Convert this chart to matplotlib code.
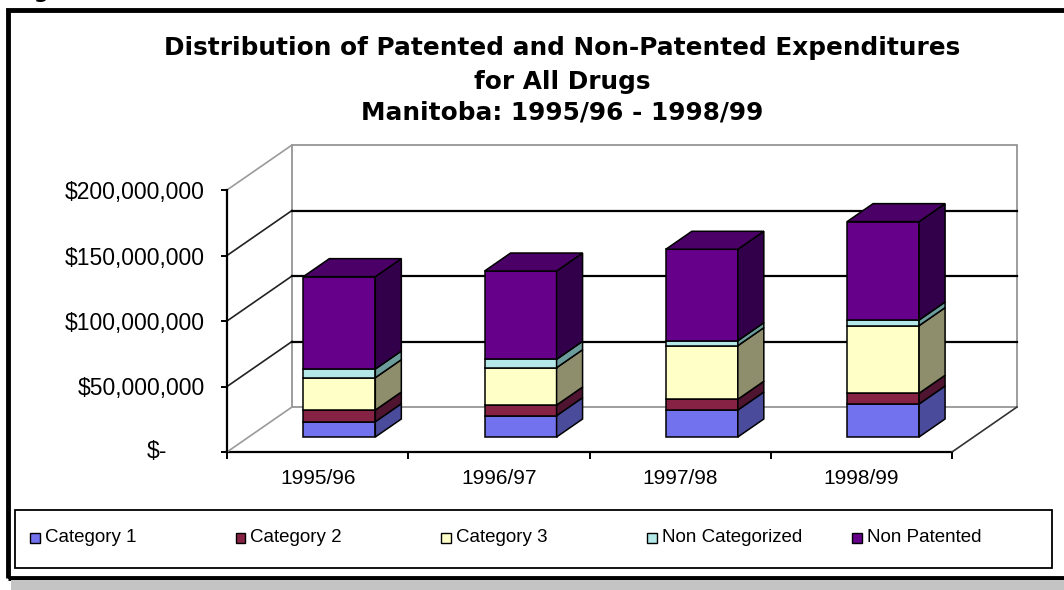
import numpy as np
import matplotlib
matplotlib.use("Agg")
import matplotlib.pyplot as plt
from matplotlib.patches import Polygon, Rectangle

plt.rcParams['font.family'] = ['Liberation Sans', 'DejaVu Sans']

# 支出データ（百万ドル）
years = ['1995/96', '1996/97', '1997/98', '1998/99']
series_names = ['Category 1', 'Category 2', 'Category 3', 'Non Categorized', 'Non Patented']
category_1 = [11.7, 16.3, 20.6, 25.2]
category_2 = [8.9, 8.1, 8.2, 8.2]
category_3 = [24.7, 28.5, 40.9, 51.6]
non_categorized = [6.6, 6.4, 3.8, 4.3]
non_patented = [70.5, 67.4, 69.8, 75.1]
y_ticks = [0, 50e6, 100e6, 150e6, 200e6]
y_tick_labels = ['$-', '$50,000,000', '$100,000,000', '$150,000,000', '$200,000,000']

front_colors = ['#7272EE', '#862244', '#FFFFC8', '#B4E8E8', '#66008A']
side_colors = ['#4B4B9C', '#4E1430', '#8E8E6C', '#6C9C9C', '#32004A']
top_color = '#4A0066'

W, H = 1064, 590
fig = plt.figure(figsize=(W / 100, H / 100), dpi=100)

def fx(px):
    return px / W

def fy(py):
    return 1 - py / H

# 前面の座標面（x: 区分, y: 金額）
ax = fig.add_axes([fx(227), fy(452), (952 - 227) / W, (452 - 190) / H])
ax.set_xlim(0, len(years))
ax.set_ylim(0, 200e6)
sx = len(years) / (952 - 227)       # 1px あたりの x
sy = 200e6 / (452 - 190)            # 1px あたりの y

# 奥行きのずれ（px）
wall_dx, wall_dy = 65 * sx, 45 * sy
front_dx, front_dy = 21.7 * sx, 15 * sy
depth_dx, depth_dy = 26 * sx, 18 * sy
bar_w = 72 * sx

ymax = y_ticks[-1]
nx = len(years)
# 奥の壁・左の壁・床
ax.add_patch(Polygon([(wall_dx, wall_dy), (nx + wall_dx, wall_dy), (nx + wall_dx, ymax + wall_dy),
                      (wall_dx, ymax + wall_dy)], closed=True, facecolor='white',
                     edgecolor='#8C8C8C', lw=1.2, clip_on=False, zorder=0))
ax.plot([0, nx], [0, 0], color='black', lw=1.6, clip_on=False, zorder=1)
ax.plot([nx, nx + wall_dx], [0, wall_dy], color='#333333', lw=1.2, clip_on=False, zorder=1)
for v in y_ticks:
    c = '#9A9A9A' if v in (0, ymax) else '#222222'
    ax.plot([0, wall_dx], [v, v + wall_dy], color=c, lw=1.2, clip_on=False, zorder=1)
    if 0 < v < ymax:
        ax.plot([wall_dx, nx + wall_dx], [v + wall_dy, v + wall_dy], color='black', lw=1.6,
                clip_on=False, zorder=1)

# 積み上げ棒（3D風）
stack = np.array([category_1, category_2, category_3, non_categorized, non_patented]) * 1e6
bottoms = np.vstack([np.zeros(nx), np.cumsum(stack, axis=0)[:-1]])
for i in range(nx):
    x0 = i + 0.5 - bar_w / 2 + front_dx
    x1 = x0 + bar_w
    for k in range(len(series_names)):
        b = bottoms[k, i] + front_dy
        t = b + stack[k, i]
        ax.add_patch(Polygon([(x0, b), (x1, b), (x1, t), (x0, t)], closed=True,
                             facecolor=front_colors[k], edgecolor='black', lw=1.1,
                             clip_on=False, zorder=3))
        ax.add_patch(Polygon([(x1, b), (x1 + depth_dx, b + depth_dy), (x1 + depth_dx, t + depth_dy),
                              (x1, t)], closed=True, facecolor=side_colors[k],
                             edgecolor='black', lw=1.1, clip_on=False, zorder=3))
    top = bottoms[-1, i] + stack[-1, i] + front_dy
    ax.add_patch(Polygon([(x0, top), (x1, top), (x1 + depth_dx, top + depth_dy),
                          (x0 + depth_dx, top + depth_dy)], closed=True, facecolor=top_color,
                         edgecolor='black', lw=1.1, clip_on=False, zorder=3))

# 軸
for s in ['top', 'right', 'bottom']:
    ax.spines[s].set_visible(False)
ax.spines['left'].set_linewidth(1.6)
ax.set_yticks(y_ticks)
ax.set_yticklabels([''] + y_tick_labels[1:], fontsize=16.5)
ax.tick_params(axis='y', direction='out', length=4, width=1.4, pad=12)
ax.text(-60 * sx, 0, y_tick_labels[0], fontsize=16.5, ha='right', va='center')
ax.set_xticks(np.arange(nx + 1))
ax.set_xticklabels([])
ax.set_xticks(np.arange(nx) + 0.5, minor=True)
ax.set_xticklabels(years, minor=True, fontsize=15)
ax.tick_params(axis='x', which='major', direction='out', length=5, width=1.4)
ax.tick_params(axis='x', which='minor', length=0, pad=12)
ax.set_facecolor('none')

# タイトル
title_lines = ['Distribution of Patented and Non-Patented Expenditures', 'for All Drugs',
               'Manitoba: 1995/96 - 1998/99']
for line, py in zip(title_lines, [48, 82, 113]):
    fig.text(fx(562), fy(py), line, ha='center', va='center', fontsize=17.8,
             fontweight='bold', family='DejaVu Sans')

# 凡例（等幅の欄に並べる）
fig.add_artist(Rectangle((fx(15), fy(568)), (1052 - 15) / W, (568 - 510) / H,
                         transform=fig.transFigure, facecolor='white', edgecolor='black', lw=1.3))
for k, name in enumerate(series_names):
    lx = 30 + k * 205.5
    fig.add_artist(Rectangle((fx(lx), fy(543)), 10 / W, 10 / H, transform=fig.transFigure,
                             facecolor=front_colors[k], edgecolor='black', lw=1))
    fig.text(fx(lx + 15), fy(538), name, fontsize=13.5, ha='left', va='center')

# 外枠と下の影
fig.add_artist(Rectangle((fx(8), fy(578)), (W + 20) / W, (578 - 10) / H, transform=fig.transFigure,
                         fill=False, edgecolor='black', lw=3.5))
fig.add_artist(Rectangle((fx(11), 0), 1, (590 - 580) / H, transform=fig.transFigure,
                         facecolor='#C4C4C4', edgecolor='none'))
fig.text(fx(33), fy(-2), 'g', fontsize=15, fontweight='bold', va='baseline', family='DejaVu Sans')

fig.savefig('out.png', dpi=100)
